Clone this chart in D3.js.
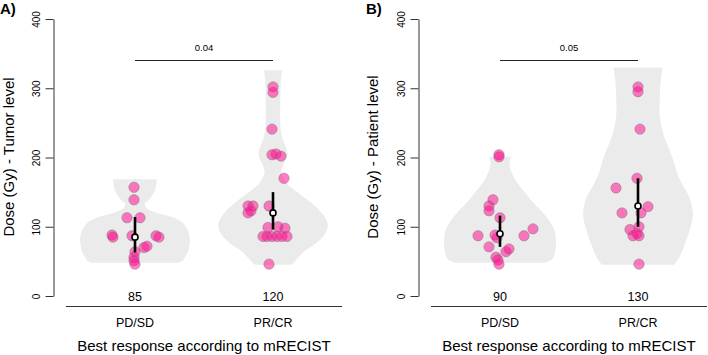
<!DOCTYPE html>
<html><head><meta charset="utf-8">
<script src="https://cdn.jsdelivr.net/npm/d3@7"></script>
<style>
body{margin:0;background:#fff}
svg{display:block}
text{font-family:"Liberation Sans",Arial,Helvetica,sans-serif;fill:#000}
</style>
</head><body>
<svg id="c" width="708" height="355"></svg>
<script>
// ---------- data ----------
const categories = ["PD/SD", "PR/CR"];
const yTicks = [0, 100, 200, 300, 400];
const panelTags = ["A)", "B)"];
const yTitles = ["Dose (Gy) - Tumor level", "Dose (Gy) - Patient level"];
const xTitle = "Best response according to mRECIST";
const pValues = ["0.04", "0.05"];
const medianLabels = [["85", "120"], ["90", "130"]];
const medians = [[85, 120], [90, 130]];
const q1s = [[63, 96], [71, 100]];
const q3s = [[114, 150], [116, 170]];

// points (dose) and horizontal jitter (relative units)
const tumorPD = [157, 139, 113, 113, 88, 85, 87, 87, 85, 70, 72, 64, 56, 51, 46];
const tumorPDJitter = [-0.04, -0.04, -0.32, 0.2, -0.92, -0.88, -0.12, 0.84, 0.96, 0.36, 0.48, 0, -0.04, -0.04, 0];
const tumorPR = [302, 294, 241, 204, 205, 202, 170, 130, 130, 120, 123, 130, 99, 100, 98, 86, 86, 86, 86, 86, 86, 46];
const tumorPRJitter = [0, 0, -0.04, -0.04, 0.12, 0.32, 0.44, -1.0, -0.8, -1.0, -0.88, -0.16, -0.2, 0.2, 0.48, -0.4, -0.24, -0.04, 0.16, 0.36, 0.56, -0.16];
const patientPD = [204, 201, 139, 130, 123, 113, 87, 88, 84, 87, 97, 71, 64, 68, 56, 52, 46];
const patientPDJitter = [-0.04, -0.04, -0.28, -0.44, -0.44, 0, -0.88, -0.2, -0.12, 0.96, 1.32, -0.44, 0.24, 0.36, -0.16, -0.08, -0.04];
const patientPR = [302, 295, 241, 170, 156, 129, 120, 120, 100, 96, 87, 87, 90, 46];
const patientPRJitter = [0, 0, 0.08, -0.04, -0.88, 0.4, -0.64, 0.12, 0.04, -0.32, -0.2, 0.04, -0.04, 0.04];

// violin outlines: dose levels and relative width (% of max)
const tumorPDLevels = [48, 52, 56, 65, 80, 91, 105, 114, 120, 127, 134, 139, 153, 168.5];
const tumorPDWidths = [79, 86, 89, 95, 98, 96, 86, 66, 39, 20, 18, 25, 36, 39];
const tumorPRLevels = [45, 50, 58, 64, 75, 90, 103, 118, 133, 146, 158, 168, 180, 192, 204, 215, 230, 250, 280, 310, 326];
const tumorPRWidths = [32, 39, 48, 55, 75, 93, 98, 89, 71, 50, 30, 20, 15, 20, 26, 23, 16, 13, 13, 14, 16];
const patientPDLevels = [48, 53, 62, 78, 92, 105, 120, 135, 153, 168, 180, 190, 197, 201];
const patientPDWidths = [80, 93, 98, 100, 98, 91, 77, 59, 41, 27, 20, 17, 18, 20];
const patientPRLevels = [45, 52, 65, 80, 97, 117, 140, 160, 175, 196, 215, 235, 259, 290, 315, 330];
const patientPRWidths = [64, 71, 79, 86, 93, 98, 93, 80, 71, 63, 54, 45, 39, 39, 41, 44];

// ---------- build ----------
const panels = [
  {groups: [
    {vals: tumorPD, jit: tumorPDJitter, lev: tumorPDLevels, wid: tumorPDWidths},
    {vals: tumorPR, jit: tumorPRJitter, lev: tumorPRLevels, wid: tumorPRWidths}]},
  {groups: [
    {vals: patientPD, jit: patientPDJitter, lev: patientPDLevels, wid: patientPDWidths},
    {vals: patientPR, jit: patientPRJitter, lev: patientPRLevels, wid: patientPRWidths}]}
];

const svg = d3.select("#c");
const panelOffsets = [0, 365];

const y = d3.scaleLinear().domain([0, 400]).range([296, 19]);
const x = d3.scalePoint().domain(categories).range([66, 342]).padding(0.5);
const w = d3.scaleLinear().domain([0, 100]).range([0, 56]);
const jitterScale = d3.scaleLinear().domain([-1, 1]).range([-25, 25]);

panels.forEach((p, pi) => {
  const g = svg.append("g").attr("transform", `translate(${panelOffsets[pi]},0)`);

  // violins
  p.groups.forEach((grp, gi) => {
    const cx = x(categories[gi]);
    const pts = grp.lev.map((v, i) => ({v, r: grp.wid[i]}));
    const area = d3.area()
      .y(d => y(d.v))
      .x0(d => cx - w(d.r))
      .x1(d => cx + w(d.r))
      .curve(d3.curveCatmullRom.alpha(0.5));
    g.append("path").attr("d", area(pts)).attr("fill", "#ebebeb").attr("stroke", "none");
  });

  // points
  p.groups.forEach((grp, gi) => {
    const cx = x(categories[gi]);
    g.append("g").selectAll("circle").data(grp.vals).join("circle")
      .attr("cx", (d, i) => cx + jitterScale(grp.jit[i]))
      .attr("cy", d => y(d))
      .attr("r", 5.2)
      .attr("fill", "rgba(255,20,147,0.55)")
      .attr("stroke", "rgba(110,110,110,0.55)")
      .attr("stroke-width", 0.7);
  });

  // IQR line + median
  categories.forEach((c, gi) => {
    const cx = x(c);
    g.append("line").attr("x1", cx).attr("x2", cx)
      .attr("y1", y(q1s[pi][gi])).attr("y2", y(q3s[pi][gi]))
      .attr("stroke", "#000").attr("stroke-width", 2.6);
    g.append("circle").attr("cx", cx).attr("cy", y(medians[pi][gi])).attr("r", 3)
      .attr("fill", "#fff").attr("stroke", "#000").attr("stroke-width", 1.6);
    g.append("text").attr("x", cx).attr("y", y(0) + 4.5)
      .attr("text-anchor", "middle").attr("font-size", 12.5).text(medianLabels[pi][gi]);
    g.append("text").attr("x", cx).attr("y", 327)
      .attr("text-anchor", "middle").attr("font-size", 12.5).text(c);
  });

  // y axis
  const ax = d3.axisLeft(y).tickValues(yTicks).tickSize(8).tickSizeOuter(0).tickPadding(0);
  const ya = g.append("g").attr("transform", "translate(53.5,0)").call(ax);
  ya.select(".domain").attr("stroke", "#333");
  ya.selectAll(".tick line").attr("stroke", "#333");
  ya.selectAll(".tick text")
    .attr("x", null).attr("dy", null)
    .attr("transform", "translate(-14,0) rotate(-90)")
    .attr("text-anchor", "middle")
    .attr("font-size", 10)
    .attr("font-family", '"Liberation Sans",Arial,sans-serif')
    .attr("fill", "#000");

  // x axis line
  g.append("line").attr("x1", x.range()[0]).attr("x2", x.range()[1])
    .attr("y1", 306.5).attr("y2", 306.5).attr("stroke", "#333").attr("stroke-width", 1);

  // significance bar
  g.append("line").attr("x1", x(categories[0])).attr("x2", x(categories[1]))
    .attr("y1", 60.5).attr("y2", 60.5).attr("stroke", "#222").attr("stroke-width", 1);
  g.append("text").attr("x", (x(categories[0]) + x(categories[1])) / 2).attr("y", 50.5)
    .attr("text-anchor", "middle").attr("font-size", 9.5).text(pValues[pi]);

  // titles
  g.append("text").attr("x", 204).attr("y", 350.5).attr("text-anchor", "middle")
    .attr("font-size", 15).text(xTitle);
  g.append("text").attr("transform", `translate(${pi === 0 ? 14 : 13},157) rotate(-90)`)
    .attr("text-anchor", "middle").attr("font-size", 15).text(yTitles[pi]);
  g.append("text").attr("x", pi === 0 ? 0 : 1).attr("y", 13.5)
    .attr("font-size", 15).attr("font-weight", "bold").text(panelTags[pi]);
});
</script>
</body></html>
